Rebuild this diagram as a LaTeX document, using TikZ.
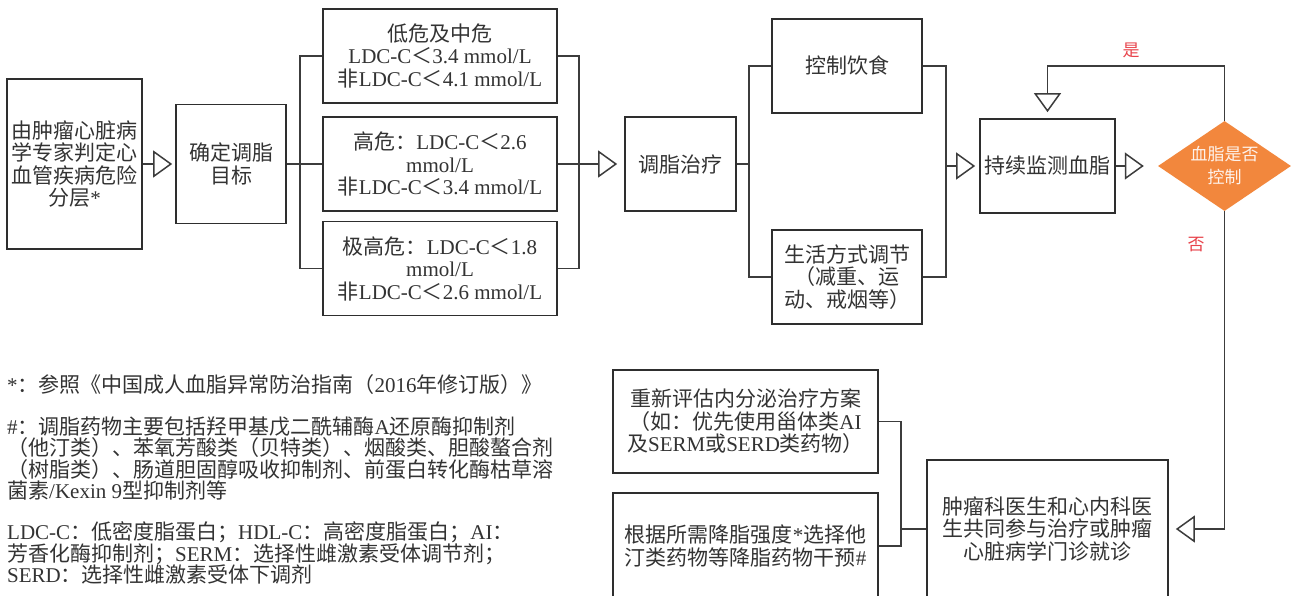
\documentclass[tikz,border=0pt]{standalone}
\usepackage{fontspec}
\setmainfont{Noto Sans CJK SC}
\newfontfamily\engfont{Liberation Serif}
\newcommand{\eng}[1]{{\engfont #1}}
\usetikzlibrary{shapes.geometric,arrows.meta}

\definecolor{boxline}{HTML}{2E2E2E}
\definecolor{linkgray}{HTML}{3C3C3C}
\definecolor{txt}{HTML}{333333}
\definecolor{decision}{HTML}{F2873D}
\definecolor{labelred}{HTML}{E8424A}

\tikzset{
  box/.style={draw=boxline, line width=1.7pt, text=txt, align=center, inner sep=2pt,
    font=\fontsize{21}{22.5}\selectfont},
  link/.style={draw=linkgray, line width=1.5pt},
  arr/.style={link, -{Triangle[open, length=19pt, width=27pt]}},
  answer/.style={text=labelred, font=\fontsize{17}{20}\selectfont},
  footnote/.style={anchor=west, align=left, text=txt, inner sep=0pt,
    font=\fontsize{21}{21.5}\selectfont},
}

\begin{document}
\begin{tikzpicture}[x=1pt, y=-1pt]
        \useasboundingbox (0,0) rectangle (1295,596);
        \clip (0,0) rectangle (1295,596);
        \fill[white] (0,0) rectangle (1295,596);

        % Risk stratification and lipid targets
        \node[box, minimum width=135, minimum height=170] (risk) at (74.5,164) {由肿瘤心脏病\\学专家判定心\\血管疾病危险\\分层\eng{*}};
        \node[box, minimum width=110, minimum height=119] (target) at (231,164) {确定调脂\\目标};

        \node[box, minimum width=234, minimum height=94] (low) at (440,56) {低危及中危\\\eng{LDC-C}＜\eng{3.4 mmol/L}\\非\eng{LDC-C}＜\eng{4.1 mmol/L}};
        \node[box, minimum width=234, minimum height=94] (high) at (440,164) {高危：\eng{LDC-C}＜\eng{2.6}\\\eng{mmol/L}\\非\eng{LDC-C}＜\eng{3.4 mmol/L}};
        \node[box, minimum width=234, minimum height=94] (vhigh) at (440,268.5) {极高危：\eng{LDC-C}＜\eng{1.8}\\\eng{mmol/L}\\非\eng{LDC-C}＜\eng{2.6 mmol/L}};

        % Treatment
        \node[box, minimum width=111, minimum height=94] (therapy) at (680.5,164) {调脂治疗};
        \node[box, minimum width=150, minimum height=94] (diet) at (847,66) {控制饮食};
        \node[box, minimum width=150, minimum height=94] (life) at (847,277) {生活方式调节\\（减重、运\\动、戒烟等）};

        % Monitoring loop
        \node[box, minimum width=135, minimum height=94] (monitor) at (1047.5,166) {持续监测血脂};
        \node[diamond, fill=decision, aspect=1.48, inner sep=0pt, minimum width=133, minimum height=90,
              text=white!90!decision, align=center, font=\fontsize{17}{23}\selectfont] (check) at (1224.5,166) {血脂是否\\控制};
        \node[answer] (yes) at (1131,50) {是};
        \node[answer] (no) at (1196,245) {否};

        % Follow-up
        \node[box, minimum width=241, minimum height=138] (team) at (1047.5,529) {肿瘤科医生和心内科医\\生共同参与治疗或肿瘤\\心脏病学门诊就诊};
        \node[box, minimum width=265, minimum height=103] (plan) at (745.5,421.5) {重新评估内分泌治疗方案\\（如：优先使用甾体类\eng{AI}\\及\eng{SERM}或\eng{SERD}类药物）};
        \node[box, minimum width=265, minimum height=106] (drug) at (745.5,546) {根据所需降脂强度\eng{*}选择他\\汀类药物等降脂药物干预\eng{\#}};

        % Connectors
        \draw[arr, shorten >=3pt] (risk.east) -- (target.west);
        \coordinate (splitA) at (300,164);
        \draw[link] (target.east) -- (splitA);
        \draw[link] (low.west) -| (splitA) |- (vhigh.west);
        \draw[link] (splitA) -- (high.west);
        \coordinate (joinA) at (579,164);
        \draw[link] (low.east) -| (joinA) |- (vhigh.east);
        \draw[arr, shorten >=7pt] (high.east) -- (therapy.west);

        \coordinate (splitB) at (749,164);
        \draw[link] (therapy.east) -- (splitB);
        \draw[link] (diet.west) -| (splitB) |- (life.west);
        \coordinate (joinB) at (946,166);
        \draw[link] (diet.east) -| (joinB) |- (life.east);
        \draw[arr, shorten >=4pt] (joinB) -- (monitor.west);

        \draw[arr, shorten >=14pt] (monitor.east) -- (check.west);
        \draw[arr, shorten >=6pt] (check.north) -- ++(0,-55) -| (monitor.north);
        \draw[arr, shorten >=7pt] (check.south) |- (team.east);

        \coordinate (joinC) at (901,529);
        \draw[link] (plan.east) -| (joinC) |- (drug.east);
        \draw[link] (joinC) -- (team.west);

        % Notes
        \node[footnote] (noteA) at (7,385) {\eng{*}：参照《中国成人血脂异常防治指南（\eng{2016}年修订版）》};
        \node[footnote] (noteB) at (7,458.5) {\eng{\#}：调脂药物主要包括羟甲基戊二酰辅酶\eng{A}还原酶抑制剂\\（他汀类）、苯氧芳酸类（贝特类）、烟酸类、胆酸螯合剂\\（树脂类）、肠道胆固醇吸收抑制剂、前蛋白转化酶枯草溶\\菌素\eng{/Kexin 9}型抑制剂等};
        \node[footnote] (noteC) at (7,553) {\eng{LDC-C}：低密度脂蛋白；\eng{HDL-C}：高密度脂蛋白；\eng{AI}：\\芳香化酶抑制剂；\eng{SERM}：选择性雌激素受体调节剂；\\\eng{SERD}：选择性雌激素受体下调剂};
\end{tikzpicture}
\end{document}
